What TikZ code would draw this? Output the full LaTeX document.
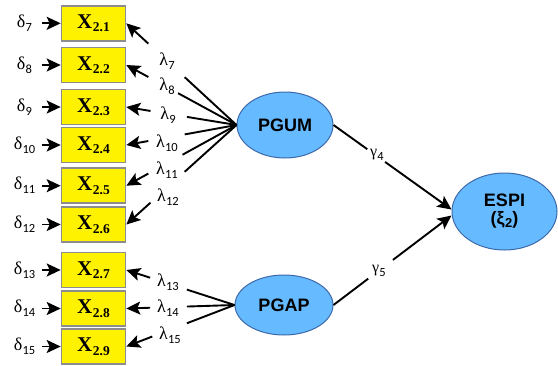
\documentclass[tikz,border=0pt]{standalone}
\usepackage{fontspec}
\setmainfont{Liberation Serif}
\newfontfamily\sansf{Liberation Sans}
\newfontfamily\subf{Carlito}
\usetikzlibrary{arrows.meta,shapes.geometric,calc}
\definecolor{latfill}{RGB}{102,186,255}
\definecolor{latdraw}{RGB}{60,105,170}
\definecolor{boxdraw}{RGB}{140,140,140}
\newcommand\gk[2]{#1\kern0.2pt\raisebox{-4pt}{\subf\fontsize{12.5}{12.5}\selectfont #2}}
\newcommand\xl[1]{X\kern0.5pt\raisebox{-3.5pt}{\fontsize{13.5}{13.5}\selectfont #1}}
\begin{document}
\begin{tikzpicture}[x=1pt,y=-1pt,
  obs/.style={draw=boxdraw,line width=1.6pt,fill=yellow,minimum width=64pt,minimum height=35pt,inner sep=0pt,font=\fontsize{21}{21}\selectfont\bfseries},
  lat/.style={ellipse,draw=latdraw,fill=latfill,line width=1pt,inner sep=0pt,font=\sansf\bfseries\fontsize{18}{18}\selectfont},
  lab/.style={font=\fontsize{18}{18}\selectfont,inner sep=1pt},
  ln/.style={line width=1.9pt},
  arr/.style={line width=1.9pt,-{Stealth[length=14pt,width=13pt,inset=3pt]}}]
\useasboundingbox (0,0) rectangle (558,365);
% latent variables
\node[lat,minimum width=96pt,minimum height=66pt] (pgum) at (285,125) {PGUM};
\node[lat,minimum width=98pt,minimum height=60pt] (pgap) at (284,305) {PGAP};
\node[lat,minimum width=105pt,minimum height=77pt,align=center] (espi) at (504.5,211.5)
  {\fontsize{18}{27}\selectfont ESPI\\({\sansf\bfseries ξ}\kern0.3pt\raisebox{-3pt}{\fontsize{13}{13}\selectfont 2})};
% observed variables
\foreach \i/\y/\s in {1/23.3/7,2/65/8,3/107/9,4/145/10,5/185.7/11,6/224.5/12,7/270/13,8/308.5/14,9/346.5/15}{
  \node[obs] (b\i) at (93.5,\y) {\xl{2.\i}};
  \node[lab] (d\i) at (24.5,\y) {\gk{δ}{\s}};
  \coordinate (dc\i) at (42,\y);
  \draw[arr] (dc\i) -- (b\i.west);
}
% loadings PGUM
\foreach \i/\e/\s in {1/0.47/0.80,2/0.53/0.80,3/0.45/0.78,4/0.47/0.80,5/0.49/0.80,6/0.47/0.78}{
  \draw[ln] (pgum.west) -- ($(pgum.west)!\e!(b\i.east)$);
  \draw[arr] ($(pgum.west)!\s!(b\i.east)$) -- (b\i.east);
}
% loadings PGAP
\foreach \i/\e/\s in {7/0.44/0.78,8/0.44/0.78,9/0.44/0.76}{
  \draw[ln] (pgap.west) -- ($(pgap.west)!\e!(b\i.east)$);
  \draw[arr] ($(pgap.west)!\s!(b\i.east)$) -- (b\i.east);
}
% lambda labels
\node[lab] (l7) at (167,61) {\gk{λ}{7}};
\node[lab] (l8) at (167,86) {\gk{λ}{8}};
\node[lab] (l9) at (168,115) {\gk{λ}{9}};
\node[lab] (l10) at (167,143) {\gk{λ}{10}};
\node[lab] (l11) at (167,170) {\gk{λ}{11}};
\node[lab] (l12) at (168,197) {\gk{λ}{12}};
\node[lab] (l13) at (168,282) {\gk{λ}{13}};
\node[lab] (l14) at (168,308) {\gk{λ}{14}};
\node[lab] (l15) at (170,335) {\gk{λ}{15}};
% structural paths
\coordinate (e4) at ([yshift=2pt]espi.west);
\coordinate (e5) at ([yshift=-4pt]espi.west);
\draw[ln] (pgum.east) -- ($(pgum.east)!0.286!(e4)$);
\draw[arr] ($(pgum.east)!0.437!(e4)$) -- (e4);
\draw[ln] (pgap.east) -- ($(pgap.east)!0.294!(e5)$);
\draw[arr] ($(pgap.east)!0.504!(e5)$) -- (e5);
\node[lab,font=\fontsize{16}{16}\selectfont] (g4) at (377,155) {\gk{γ}{4}};
\node[lab,font=\fontsize{16}{16}\selectfont] (g5) at (379,271) {\gk{γ}{5}};
\end{tikzpicture}
\end{document}
